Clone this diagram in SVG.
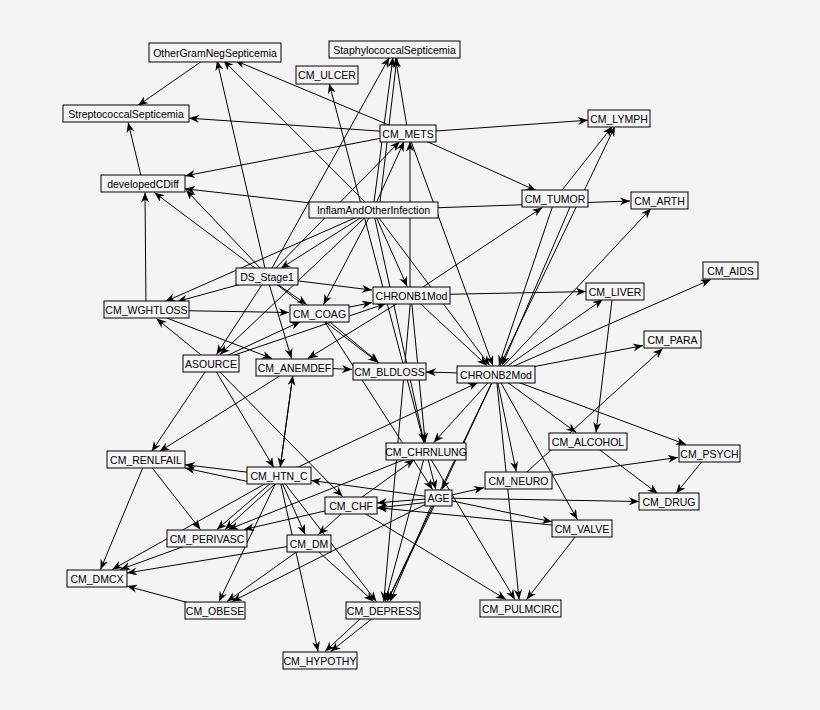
<svg xmlns="http://www.w3.org/2000/svg" width="820" height="710" viewBox="0 0 820 710">
<style>
.n rect{fill:#f4f4f4;stroke:#000;stroke-width:1}
.n text{font-family:"Liberation Sans",Arial,sans-serif;font-size:10.5px;fill:#000;text-anchor:middle;dominant-baseline:central}
#edges line{stroke:#000;stroke-width:1;marker-end:url(#a)}
</style>
<defs><marker id="a" markerUnits="userSpaceOnUse" markerWidth="11" markerHeight="9" refX="10" refY="4" orient="auto"><path d="M0,0 L10,4 L0,8 L3,4 z" fill="#000"/></marker></defs>
<rect width="820" height="710" fill="#f4f4f4"/>
<g id="edges">
<line x1="215" y1="52" x2="138" y2="105.5"/>
<line x1="408" y1="133" x2="235" y2="60.5"/>
<line x1="408" y1="133" x2="189" y2="118.2"/>
<line x1="408" y1="133" x2="185" y2="175.9"/>
<line x1="408" y1="133" x2="395.4" y2="57.5"/>
<line x1="408" y1="133" x2="588" y2="120.2"/>
<line x1="408" y1="133" x2="536" y2="190.5"/>
<line x1="408" y1="133" x2="492.9" y2="365.5"/>
<line x1="143" y1="184" x2="128.1" y2="122.5"/>
<line x1="373" y1="210" x2="185" y2="188.8"/>
<line x1="373" y1="210" x2="404.1" y2="141.5"/>
<line x1="373" y1="210" x2="392.9" y2="57.5"/>
<line x1="380" y1="202" x2="397" y2="57.5"/>
<line x1="373" y1="210" x2="223.5" y2="60.5"/>
<line x1="373" y1="210" x2="630" y2="201"/>
<line x1="373" y1="210" x2="280.5" y2="268.5"/>
<line x1="373" y1="210" x2="323.5" y2="304.5"/>
<line x1="373" y1="210" x2="407.2" y2="286.5"/>
<line x1="373" y1="210" x2="424.1" y2="442.5"/>
<line x1="373" y1="210" x2="489.6" y2="365.5"/>
<line x1="373" y1="210" x2="165.3" y2="301.5"/>
<line x1="373" y1="210" x2="220" y2="354.5"/>
<line x1="267" y1="277" x2="217" y2="60.5"/>
<line x1="267" y1="277" x2="389.3" y2="57.5"/>
<line x1="267" y1="277" x2="154.3" y2="192.5"/>
<line x1="262" y1="270" x2="186" y2="190"/>
<line x1="267" y1="277" x2="177.2" y2="301.5"/>
<line x1="267" y1="277" x2="372" y2="290.1"/>
<line x1="267" y1="277" x2="306.7" y2="304.5"/>
<line x1="267" y1="277" x2="291.5" y2="358.5"/>
<line x1="267" y1="277" x2="216.5" y2="354.5"/>
<line x1="267" y1="277" x2="378" y2="362.5"/>
<line x1="267" y1="277" x2="399.7" y2="141.5"/>
<line x1="426" y1="451" x2="329.2" y2="83.5"/>
<line x1="146" y1="310" x2="145" y2="192.5"/>
<line x1="146" y1="310" x2="289" y2="312.5"/>
<line x1="146" y1="310" x2="272" y2="358.5"/>
<line x1="211" y1="363" x2="156.4" y2="318.5"/>
<line x1="211" y1="363" x2="300.6" y2="321.5"/>
<line x1="211" y1="363" x2="386" y2="303.5"/>
<line x1="211" y1="363" x2="151.7" y2="451.5"/>
<line x1="211" y1="363" x2="273.9" y2="467.5"/>
<line x1="211" y1="363" x2="342.6" y2="496.5"/>
<line x1="319" y1="313" x2="372" y2="302.6"/>
<line x1="319" y1="313" x2="378.7" y2="362.5"/>
<line x1="319" y1="313" x2="432.5" y2="489.5"/>
<line x1="411" y1="295" x2="542.3" y2="207.5"/>
<line x1="411" y1="295" x2="586" y2="291.6"/>
<line x1="411" y1="295" x2="486.9" y2="365.5"/>
<line x1="410" y1="290" x2="410" y2="141.5"/>
<line x1="411" y1="295" x2="307.8" y2="358.5"/>
<line x1="411" y1="295" x2="425.2" y2="442.5"/>
<line x1="411" y1="295" x2="383.8" y2="601.5"/>
<line x1="294" y1="367" x2="352" y2="369.4"/>
<line x1="294" y1="367" x2="159.5" y2="451.5"/>
<line x1="294" y1="367" x2="280.2" y2="467.5"/>
<line x1="279" y1="476" x2="292.8" y2="375.5"/>
<line x1="496" y1="374" x2="426" y2="372"/>
<line x1="496" y1="374" x2="614.9" y2="126.5"/>
<line x1="555" y1="199" x2="612.3" y2="126.5"/>
<line x1="496" y1="374" x2="651" y2="208.5"/>
<line x1="496" y1="374" x2="602.8" y2="299.5"/>
<line x1="496" y1="374" x2="710.7" y2="279.5"/>
<line x1="496" y1="374" x2="643" y2="345.6"/>
<line x1="496" y1="374" x2="576.3" y2="432.5"/>
<line x1="496" y1="374" x2="686" y2="444.5"/>
<line x1="496" y1="374" x2="516.2" y2="471.5"/>
<line x1="496" y1="374" x2="577.3" y2="519.5"/>
<line x1="496" y1="374" x2="433.7" y2="442.5"/>
<line x1="496" y1="374" x2="442" y2="489.5"/>
<line x1="496" y1="374" x2="519.1" y2="599.5"/>
<line x1="496" y1="374" x2="387" y2="601.5"/>
<line x1="279" y1="476" x2="478" y2="382.5"/>
<line x1="555" y1="199" x2="498.9" y2="365.5"/>
<line x1="570" y1="207" x2="502" y2="365.5"/>
<line x1="612" y1="300" x2="596" y2="432.5"/>
<line x1="588" y1="441" x2="657.7" y2="493.5"/>
<line x1="518" y1="480" x2="678" y2="457.4"/>
<line x1="518" y1="480" x2="662.7" y2="348.5"/>
<line x1="709" y1="453" x2="675.9" y2="493.5"/>
<line x1="438" y1="498" x2="484" y2="487.7"/>
<line x1="438" y1="498" x2="639" y2="501.5"/>
<line x1="438" y1="498" x2="552" y2="521.8"/>
<line x1="438" y1="498" x2="377" y2="502.9"/>
<line x1="430" y1="502" x2="377" y2="508"/>
<line x1="438" y1="498" x2="311" y2="480.4"/>
<line x1="438" y1="498" x2="387.2" y2="601.5"/>
<line x1="432" y1="504" x2="390" y2="601.5"/>
<line x1="438" y1="498" x2="232" y2="601.5"/>
<line x1="582" y1="528" x2="377" y2="507.6"/>
<line x1="582" y1="528" x2="526.6" y2="599.5"/>
<line x1="426" y1="451" x2="435.8" y2="489.5"/>
<line x1="426" y1="451" x2="514.9" y2="599.5"/>
<line x1="426" y1="451" x2="385.3" y2="601.5"/>
<line x1="426" y1="451" x2="228.4" y2="529.5"/>
<line x1="351" y1="505" x2="414.2" y2="459.5"/>
<line x1="279" y1="476" x2="185" y2="464.7"/>
<line x1="250" y1="482" x2="185" y2="468"/>
<line x1="279" y1="476" x2="216.9" y2="529.5"/>
<line x1="275" y1="484" x2="225" y2="529.5"/>
<line x1="279" y1="476" x2="305.2" y2="534.5"/>
<line x1="279" y1="476" x2="219" y2="601.5"/>
<line x1="279" y1="476" x2="112.2" y2="569.5"/>
<line x1="279" y1="476" x2="318.1" y2="651.5"/>
<line x1="279" y1="476" x2="376.4" y2="601.5"/>
<line x1="351" y1="505" x2="244.1" y2="529.5"/>
<line x1="351" y1="505" x2="318.4" y2="534.5"/>
<line x1="351" y1="505" x2="506" y2="599.5"/>
<line x1="146" y1="460" x2="100.5" y2="569.5"/>
<line x1="146" y1="460" x2="200.4" y2="529.5"/>
<line x1="207" y1="538" x2="120.4" y2="569.5"/>
<line x1="309" y1="543" x2="127" y2="573"/>
<line x1="309" y1="543" x2="227" y2="601.5"/>
<line x1="309" y1="543" x2="373.6" y2="601.5"/>
<line x1="215" y1="610" x2="127" y2="586.1"/>
<line x1="383" y1="610" x2="330.7" y2="651.5"/>
<line x1="360" y1="619" x2="325" y2="651.5"/>
</g>
<g id="OtherGramNegSepticemia" class="n"><rect x="149" y="43" width="132" height="19"/><text x="215" y="52.5">OtherGramNegSepticemia</text></g>
<g id="StaphylococcalSepticemia" class="n"><rect x="329" y="41" width="131" height="17"/><text x="394.5" y="49.5">StaphylococcalSepticemia</text></g>
<g id="CM_ULCER" class="n"><rect x="296" y="66" width="62" height="18"/><text x="327" y="75">CM_ULCER</text></g>
<g id="StreptococcalSepticemia" class="n"><rect x="63" y="105" width="126" height="17"/><text x="126" y="113.5">StreptococcalSepticemia</text></g>
<g id="CM_METS" class="n"><rect x="380" y="125" width="56" height="17"/><text x="408" y="133.5">CM_METS</text></g>
<g id="CM_LYMPH" class="n"><rect x="588" y="110" width="62" height="17"/><text x="619" y="118.5">CM_LYMPH</text></g>
<g id="developedCDiff" class="n"><rect x="101" y="175" width="84" height="17"/><text x="143" y="183.5">developedCDiff</text></g>
<g id="InflamAndOtherInfection" class="n"><rect x="309" y="202" width="129" height="16"/><text x="373.5" y="210">InflamAndOtherInfection</text></g>
<g id="CM_TUMOR" class="n"><rect x="522" y="190" width="66" height="17"/><text x="555" y="198.5">CM_TUMOR</text></g>
<g id="CM_ARTH" class="n"><rect x="631" y="192" width="57" height="17"/><text x="659.5" y="200.5">CM_ARTH</text></g>
<g id="CM_AIDS" class="n"><rect x="703" y="262" width="55" height="17"/><text x="730.5" y="270.5">CM_AIDS</text></g>
<g id="DS_Stage1" class="n"><rect x="236" y="268" width="62" height="17"/><text x="267" y="276.5">DS_Stage1</text></g>
<g id="CHRONB1Mod" class="n"><rect x="373" y="287" width="77" height="17"/><text x="411.5" y="295.5">CHRONB1Mod</text></g>
<g id="CM_LIVER" class="n"><rect x="586" y="283" width="58" height="17"/><text x="615" y="291.5">CM_LIVER</text></g>
<g id="CM_WGHTLOSS" class="n"><rect x="104" y="301" width="85" height="17"/><text x="146.5" y="309.5">CM_WGHTLOSS</text></g>
<g id="CM_COAG" class="n"><rect x="290" y="305" width="59" height="17"/><text x="319.5" y="313.5">CM_COAG</text></g>
<g id="CM_PARA" class="n"><rect x="644" y="331" width="57" height="17"/><text x="672.5" y="339.5">CM_PARA</text></g>
<g id="ASOURCE" class="n"><rect x="183" y="355" width="56" height="17"/><text x="211" y="363.5">ASOURCE</text></g>
<g id="CM_ANEMDEF" class="n"><rect x="256" y="359" width="77" height="17"/><text x="294.5" y="367.5">CM_ANEMDEF</text></g>
<g id="CM_BLDLOSS" class="n"><rect x="353" y="363" width="73" height="17"/><text x="389.5" y="371.5">CM_BLDLOSS</text></g>
<g id="CHRONB2Mod" class="n"><rect x="457" y="366" width="78" height="17"/><text x="496" y="374.5">CHRONB2Mod</text></g>
<g id="CM_CHRNLUNG" class="n"><rect x="386" y="443" width="80" height="17"/><text x="426" y="451.5">CM_CHRNLUNG</text></g>
<g id="CM_ALCOHOL" class="n"><rect x="549" y="433" width="78" height="17"/><text x="588" y="441.5">CM_ALCOHOL</text></g>
<g id="CM_PSYCH" class="n"><rect x="679" y="445" width="61" height="17"/><text x="709.5" y="453.5">CM_PSYCH</text></g>
<g id="CM_RENLFAIL" class="n"><rect x="107" y="451" width="78" height="17"/><text x="146" y="459.5">CM_RENLFAIL</text></g>
<g id="CM_HTN_C" class="n"><rect x="247" y="467" width="64" height="17"/><text x="279" y="475.5">CM_HTN_C</text></g>
<g id="CM_NEURO" class="n"><rect x="485" y="472" width="67" height="17"/><text x="518.5" y="480.5">CM_NEURO</text></g>
<g id="AGE" class="n"><rect x="425" y="490" width="27" height="16"/><text x="438.5" y="498">AGE</text></g>
<g id="CM_CHF" class="n"><rect x="325" y="497" width="52" height="17"/><text x="351" y="505.5">CM_CHF</text></g>
<g id="CM_DRUG" class="n"><rect x="639" y="493" width="60" height="17"/><text x="669" y="501.5">CM_DRUG</text></g>
<g id="CM_VALVE" class="n"><rect x="552" y="520" width="60" height="17"/><text x="582" y="528.5">CM_VALVE</text></g>
<g id="CM_PERIVASC" class="n"><rect x="167" y="530" width="80" height="17"/><text x="207" y="538.5">CM_PERIVASC</text></g>
<g id="CM_DM" class="n"><rect x="287" y="535" width="44" height="17"/><text x="309" y="543.5">CM_DM</text></g>
<g id="CM_DMCX" class="n"><rect x="67" y="570" width="60" height="17"/><text x="97" y="578.5">CM_DMCX</text></g>
<g id="CM_OBESE" class="n"><rect x="185" y="602" width="60" height="17"/><text x="215" y="610.5">CM_OBESE</text></g>
<g id="CM_DEPRESS" class="n"><rect x="346" y="602" width="74" height="17"/><text x="383" y="610.5">CM_DEPRESS</text></g>
<g id="CM_PULMCIRC" class="n"><rect x="480" y="600" width="81" height="17"/><text x="520.5" y="608.5">CM_PULMCIRC</text></g>
<g id="CM_HYPOTHY" class="n"><rect x="283" y="652" width="74" height="17"/><text x="320" y="660.5">CM_HYPOTHY</text></g>
</svg>
